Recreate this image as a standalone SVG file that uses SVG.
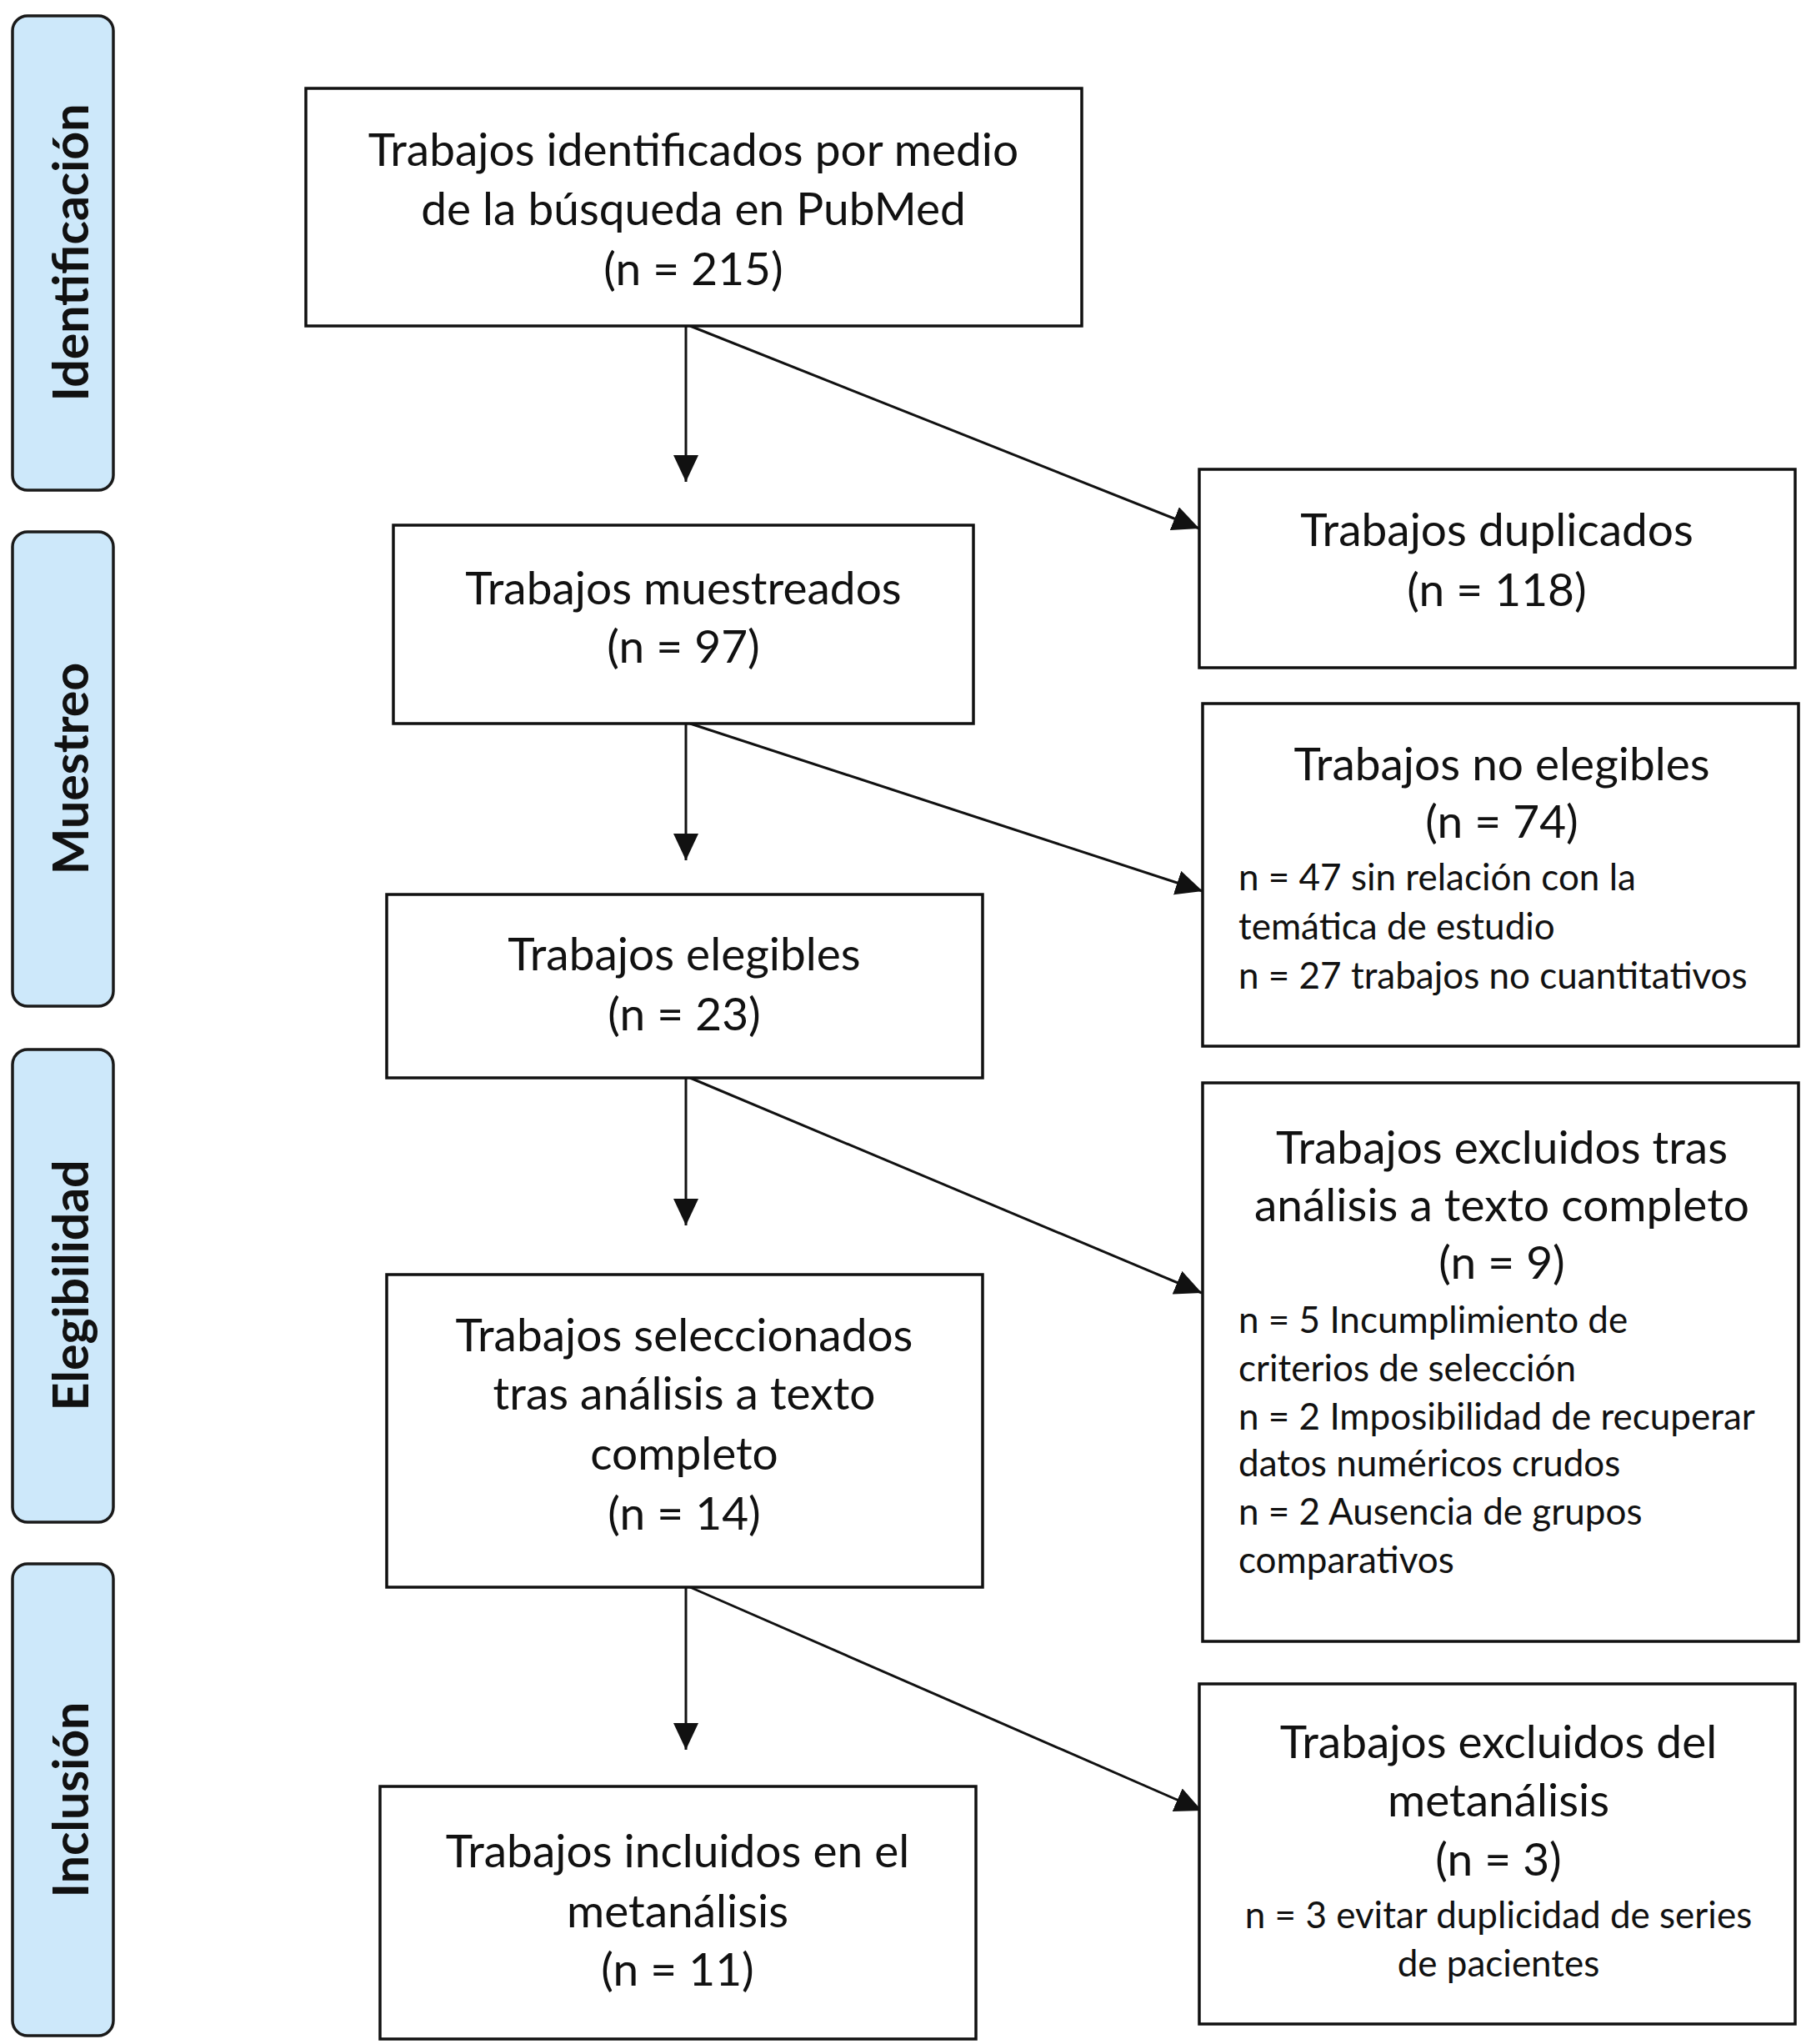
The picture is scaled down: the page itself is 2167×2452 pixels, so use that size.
<svg xmlns="http://www.w3.org/2000/svg" width="2167" height="2452" viewBox="0 0 2167 2452">
<style>
.box{fill:#fff;stroke:#111;stroke-width:3.5}
.side{fill:#cde8fa;stroke:#1a1a1a;stroke-width:3.5}
.t{font-family:Lato,"Open Sans",sans-serif;font-size:55px;fill:#111;text-anchor:middle}
.s{font-family:Lato,"Open Sans",sans-serif;font-size:44px;fill:#111}
.sc{text-anchor:middle}
.lab{font-family:Lato,"Open Sans",sans-serif;font-weight:bold;font-size:59px;fill:#111;text-anchor:middle}
.c{stroke:#111;stroke-width:3;fill:none;marker-end:url(#ah)}
</style>
<defs>
<marker id="ah" viewBox="0 0 32 30" refX="32" refY="15" markerWidth="32" markerHeight="30" orient="auto" markerUnits="userSpaceOnUse">
<path d="M0,0 L32,15 L0,30 z" fill="#111"/>
</marker>
</defs>
<rect width="2167" height="2452" fill="#fff"/>

<g id="phase-identificacion">
<rect class="side" x="15" y="19" width="121" height="569" rx="18"/>
<text class="lab" transform="translate(106,303) rotate(-90)">Identificación</text>
</g>
<g id="phase-muestreo">
<rect class="side" x="15" y="638" width="121" height="569" rx="18"/>
<text class="lab" transform="translate(106,922) rotate(-90)">Muestreo</text>
</g>
<g id="phase-elegibilidad">
<rect class="side" x="15" y="1259" width="121" height="567" rx="18"/>
<text class="lab" transform="translate(106,1542) rotate(-90)">Elegibilidad</text>
</g>
<g id="phase-inclusion">
<rect class="side" x="15" y="1876" width="121" height="566" rx="18"/>
<text class="lab" transform="translate(106,2159) rotate(-90)">Inclusión</text>
</g>

<g id="connectors">
<line class="c" x1="823" y1="391" x2="823" y2="578"/>
<line class="c" x1="828" y1="391" x2="1439" y2="634"/>
<line class="c" x1="823" y1="868" x2="823" y2="1032"/>
<line class="c" x1="828" y1="868" x2="1443" y2="1069"/>
<line class="c" x1="823" y1="1293" x2="823" y2="1470"/>
<line class="c" x1="828" y1="1293" x2="1442" y2="1551"/>
<line class="c" x1="823" y1="1904" x2="823" y2="2099"/>
<line class="c" x1="828" y1="1904" x2="1442" y2="2172"/>
</g>

<g id="n-identificados">
<rect class="box" x="367" y="106" width="931" height="285"/>
<text class="t" x="832" y="199">Trabajos identificados por medio</text>
<text class="t" x="832" y="270">de la búsqueda en PubMed</text>
<text class="t" x="832" y="342">(n = 215)</text>
</g>

<g id="n-duplicados">
<rect class="box" x="1439" y="563" width="715" height="238"/>
<text class="t" x="1796" y="655">Trabajos duplicados</text>
<text class="t" x="1796" y="727">(n = 118)</text>
</g>

<g id="n-muestreados">
<rect class="box" x="472" y="630" width="696" height="238"/>
<text class="t" x="820" y="725">Trabajos muestreados</text>
<text class="t" x="820" y="795">(n = 97)</text>
</g>

<g id="n-noelegibles">
<rect class="box" x="1443" y="844" width="715" height="411"/>
<text class="t" x="1802" y="936">Trabajos no elegibles</text>
<text class="t" x="1802" y="1005">(n = 74)</text>
<text class="s" x="1486" y="1068">n = 47 sin relación con la</text>
<text class="s" x="1486" y="1127">temática de estudio</text>
<text class="s" x="1486" y="1186">n = 27 trabajos no cuantitativos</text>
</g>

<g id="n-elegibles">
<rect class="box" x="464" y="1073" width="715" height="220"/>
<text class="t" x="821" y="1164">Trabajos elegibles</text>
<text class="t" x="821" y="1236">(n = 23)</text>
</g>

<g id="n-excluidos-texto">
<rect class="box" x="1443" y="1299" width="715" height="670"/>
<text class="t" x="1802" y="1396">Trabajos excluidos tras</text>
<text class="t" x="1802" y="1465">análisis a texto completo</text>
<text class="t" x="1802" y="1534">(n = 9)</text>
<text class="s" x="1486" y="1599">n = 5 Incumplimiento de</text>
<text class="s" x="1486" y="1657">criterios de selección</text>
<text class="s" x="1486" y="1715">n = 2 Imposibilidad de recuperar</text>
<text class="s" x="1486" y="1771">datos numéricos crudos</text>
<text class="s" x="1486" y="1829">n = 2 Ausencia de grupos</text>
<text class="s" x="1486" y="1887">comparativos</text>
</g>

<g id="n-seleccionados">
<rect class="box" x="464" y="1529" width="715" height="375"/>
<text class="t" x="821" y="1621">Trabajos seleccionados</text>
<text class="t" x="821" y="1691">tras análisis a texto</text>
<text class="t" x="821" y="1763">completo</text>
<text class="t" x="821" y="1835">(n = 14)</text>
</g>

<g id="n-excluidos-meta">
<rect class="box" x="1439" y="2020" width="715" height="408"/>
<text class="t" x="1798" y="2109">Trabajos excluidos del</text>
<text class="t" x="1798" y="2179">metanálisis</text>
<text class="t" x="1798" y="2250">(n = 3)</text>
<text class="s sc" x="1798" y="2313">n = 3 evitar duplicidad de series</text>
<text class="s sc" x="1798" y="2371">de pacientes</text>
</g>

<g id="n-incluidos">
<rect class="box" x="456" y="2143" width="715" height="303"/>
<text class="t" x="813" y="2240">Trabajos incluidos en el</text>
<text class="t" x="813" y="2312">metanálisis</text>
<text class="t" x="813" y="2382">(n = 11)</text>
</g>
</svg>
